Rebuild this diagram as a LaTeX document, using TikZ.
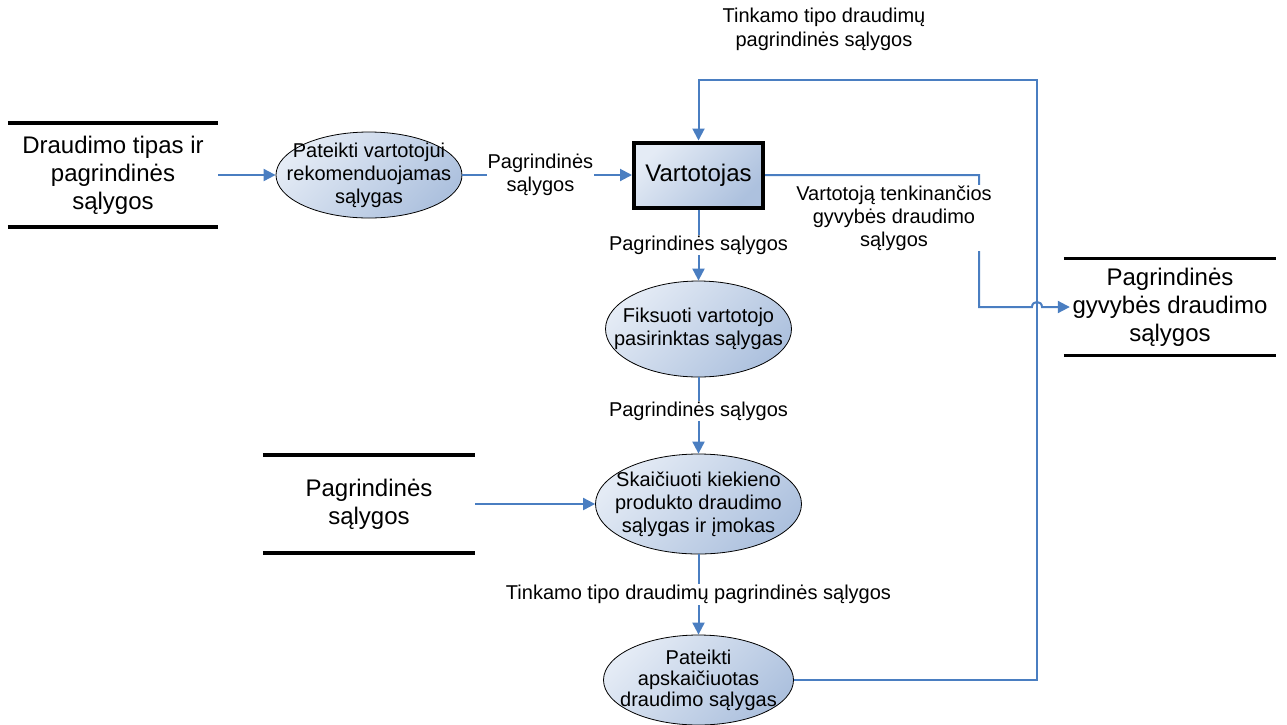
\documentclass[tikz,border=0pt]{standalone}
\usepackage{fontspec}
\setmainfont{Liberation Sans}
\usetikzlibrary{arrows.meta,shapes.geometric}

\definecolor{flow}{HTML}{4A7EC1}
\definecolor{shadeA}{HTML}{E4EBF5}
\definecolor{shadeB}{HTML}{ADC1DE}

\begin{document}
\begin{tikzpicture}[x=1pt,y=-1pt,
  bigtext/.style={font=\fontsize{24}{28}\selectfont},
  smalltext/.style={font=\fontsize{20}{23}\selectfont},
  flowline/.style={draw=flow,line width=2pt},
  arr/.style={flowline,-{Triangle[length=12pt,width=12pt]}},
  process/.style={ellipse,draw=black,line width=0.8pt,inner sep=0pt,
    top color=shadeA,bottom color=shadeB,shading angle=45},
  proctext/.style={smalltext,align=center,inner sep=0pt},
  entity/.style={rectangle,draw=black,line width=4pt,inner sep=0pt,
    top color=shadeA,bottom color=shadeB,shading angle=45,
    minimum width=129pt,minimum height=65pt,bigtext},
  store/.style={rectangle,inner sep=0pt,align=center,bigtext},
  storeline/.style={draw=black,line width=3.5pt},
  flowlabel/.style={smalltext,align=center,fill=white,inner sep=1pt}
]
\useasboundingbox (0,0) rectangle (1287,724);

% data stores
\node[store,minimum width=210pt,minimum height=104pt] (ds1) at (113,175)
  {Draudimo tipas ir\\pagrindinės\\sąlygos};
\node[store,minimum width=212pt,minimum height=98pt] (ds2) at (369,504)
  {Pagrindinės\\sąlygos};
\node[store,minimum width=212pt,minimum height=97pt] (ds3) at (1170,307)
  {Pagrindinės\\gyvybės draudimo\\sąlygos};
\foreach \s in {ds1,ds2,ds3}{
  \draw[storeline] (\s.north west) -- (\s.north east);
  \draw[storeline] (\s.south west) -- (\s.south east);
}

% processes
\node[process,minimum width=186pt,minimum height=86pt] (p1) at (369,175) {};
\node[proctext] (p1t) at (p1.center)
  {Pateikti vartotojui\\rekomenduojamas\\sąlygas};
\node[process,minimum width=186pt,minimum height=96pt] (p2) at (698.5,329) {};
\node[proctext] (p2t) at (p2.center)
  {Fiksuoti vartotojo\\pasirinktas sąlygas};
\node[process,minimum width=206pt,minimum height=100pt] (p3) at (698.5,504) {};
\node[proctext] (p3t) at (p3.center)
  {Skaičiuoti kiekieno\\produkto draudimo\\sąlygas ir įmokas};
\node[process,minimum width=190pt,minimum height=90pt] (p4) at (698.5,680) {};
\node[proctext,font=\fontsize{20}{21}\selectfont] (p4t) at (p4.center)
  {Pateikti\\apskaičiuotas\\draudimo sąlygas};

% external entity
\node[entity] (user) at (698.5,175) {Vartotojas};

% routing points
\coordinate (topR) at (1037,80);
\coordinate (turn) at (979,307);
\coordinate (hopL) at (1032,307);
\coordinate (hopR) at (1042,307);

% flows
\draw[arr] (ds1.east) -- (p1.west);
\draw[arr] (p1.east) -- node[flowlabel,pos=0.46] {Pagrindinės\\sąlygos} (user.west);
\draw[arr] (user.south) -- node[flowlabel] {Pagrindinės sąlygos} (p2.north);
\draw[arr] (p2.south) -- node[flowlabel,pos=0.44] {Pagrindinės sąlygos} (p3.north);
\draw[arr] (ds2.east) -- (p3.west);
\draw[arr] (p3.south) -- node[flowlabel] {Tinkamo tipo draudimų pagrindinės sąlygos} (p4.north);
\draw[arr] (p4.east) -| (topR) -| (user.north);
\draw[arr] (user.east) -| (turn) -- (hopL)
  .. controls (1032,300.3) and (1042,300.3) .. (hopR)
  -- ([xshift=6pt]ds3.west);

% free-standing flow labels
\node[flowlabel,font=\fontsize{20}{24}\selectfont] (toplabel) at (824,29)
  {Tinkamo tipo draudimų\\pagrindinės sąlygos};
\node[flowlabel] (userlabel) at (894,218)
  {Vartotoją tenkinančios\\gyvybės draudimo\\sąlygos};
\end{tikzpicture}
\end{document}
